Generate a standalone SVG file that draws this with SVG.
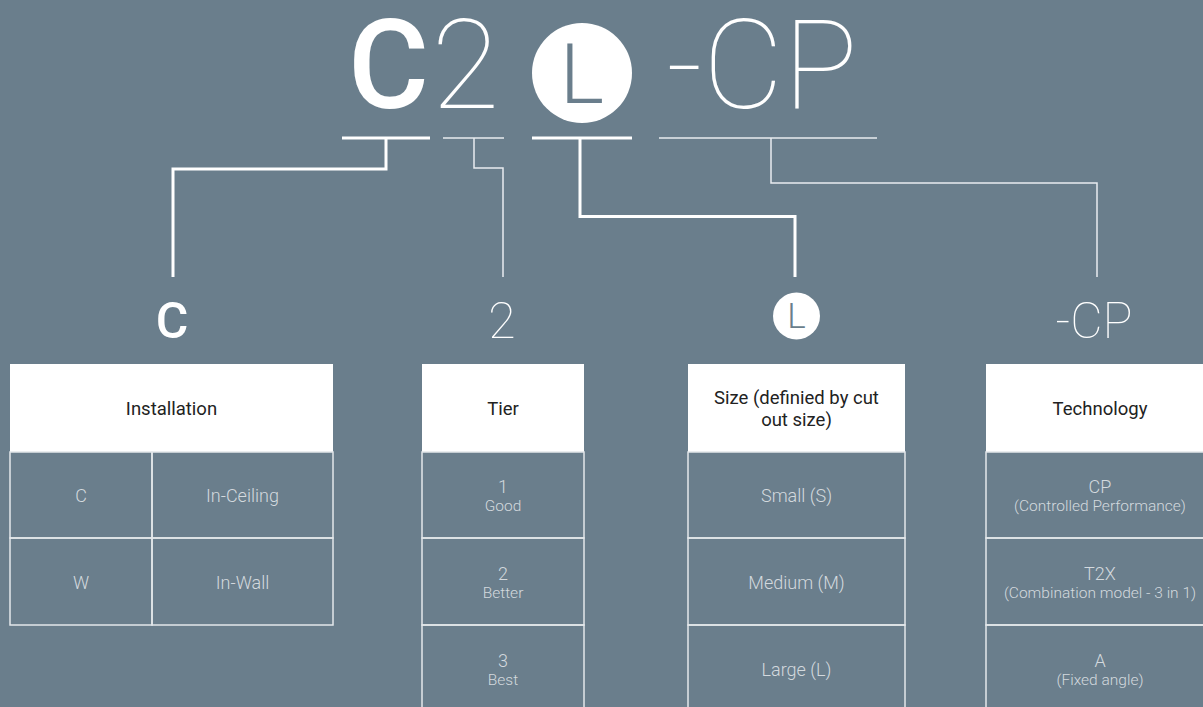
<svg xmlns="http://www.w3.org/2000/svg" width="1203" height="707" viewBox="0 0 1203 707">
  <style>
    .bg { fill: #6a7e8c; }
    .big { font-family: Roboto, "Liberation Sans", sans-serif; fill: #ffffff; text-anchor: middle; }
    .thick { stroke: #ffffff; stroke-width: 3; fill: none; }
    .thin { stroke: #e9ecef; stroke-width: 1.5; fill: none; }
    .hdr { fill: #ffffff; }
    .grid { fill: none; stroke: #e3e7ea; stroke-width: 1.5; }
    .htxt { font-family: Roboto, "Liberation Sans", sans-serif; font-weight: 400; font-size: 18.5px; fill: #222222; text-anchor: middle; }
    .ctxt { font-family: Roboto, "Liberation Sans", sans-serif; font-weight: 300; font-size: 18px; fill: #d3d9de; text-anchor: middle; }
    .stxt { font-family: Roboto, "Liberation Sans", sans-serif; font-weight: 300; font-size: 15.5px; fill: #d3d9de; text-anchor: middle; }
  </style>
  <rect class="bg" x="0" y="0" width="1203" height="707"/>

  <g id="model-code">
    <text class="big" x="388.5" y="108" font-size="124" font-weight="500">C</text>
    <text class="big" x="465.5" y="108" font-size="124" font-weight="100">2</text>
    <circle cx="582" cy="73" r="50" fill="#ffffff"/>
    <text class="big" x="582" y="103" font-size="84" font-weight="300" style="fill:#6a7e8c">L</text>
    <text class="big" x="762" y="108" font-size="124" font-weight="100">-CP</text>
    <line class="thick" x1="342" y1="138" x2="430" y2="138"/>
    <line class="thin" x1="443" y1="138" x2="504" y2="138"/>
    <line class="thick" x1="532" y1="138" x2="632" y2="138"/>
    <line class="thin" x1="659" y1="138" x2="877" y2="138"/>
  </g>

  <g id="connectors">
    <path class="thick" d="M386 138 V169 H173 V277"/>
    <path class="thin" d="M474 138 V168 H503 V277"/>
    <path class="thick" d="M580 138 V216.5 H795 V277"/>
    <path class="thin" d="M771 138 V183 H1097 V277"/>
  </g>

  <g id="label-c">
    <text class="big" x="172" y="338" font-size="50" font-weight="500">C</text>
  </g>
  <g id="label-2">
    <text class="big" x="502" y="338" font-size="50" font-weight="100">2</text>
  </g>
  <g id="label-l">
    <circle cx="796.5" cy="316" r="23.5" fill="#ffffff"/>
    <text class="big" x="796.5" y="328" font-size="35" font-weight="300" style="fill:#6a7e8c">L</text>
  </g>
  <g id="label-cp">
    <text class="big" x="1094" y="338" font-size="50" font-weight="100">-CP</text>
  </g>

  <g id="table-installation">
    <rect class="hdr" x="10" y="364" width="323" height="88"/>
    <text class="htxt" x="171.5" y="415">Installation</text>
    <rect class="grid" x="10" y="452" width="142" height="86"/>
    <rect class="grid" x="152" y="452" width="181" height="86"/>
    <rect class="grid" x="10" y="538" width="142" height="87"/>
    <rect class="grid" x="152" y="538" width="181" height="87"/>
    <text class="ctxt" x="81" y="502">C</text>
    <text class="ctxt" x="242.5" y="502">In-Ceiling</text>
    <text class="ctxt" x="81" y="589">W</text>
    <text class="ctxt" x="242.5" y="589">In-Wall</text>
  </g>

  <g id="table-tier">
    <rect class="hdr" x="422" y="364" width="162" height="88"/>
    <text class="htxt" x="503" y="415">Tier</text>
    <rect class="grid" x="422" y="452" width="162" height="86"/>
    <rect class="grid" x="422" y="538" width="162" height="87"/>
    <rect class="grid" x="422" y="625" width="162" height="87"/>
    <text class="ctxt" x="503" y="493">1</text>
    <text class="stxt" x="503" y="511">Good</text>
    <text class="ctxt" x="503" y="580">2</text>
    <text class="stxt" x="503" y="598">Better</text>
    <text class="ctxt" x="503" y="667">3</text>
    <text class="stxt" x="503" y="685">Best</text>
  </g>

  <g id="table-size">
    <rect class="hdr" x="688" y="364" width="217" height="88"/>
    <text class="htxt" x="796.5" y="404">Size (definied by cut</text>
    <text class="htxt" x="796.5" y="425.5">out size)</text>
    <rect class="grid" x="688" y="452" width="217" height="86"/>
    <rect class="grid" x="688" y="538" width="217" height="87"/>
    <rect class="grid" x="688" y="625" width="217" height="87"/>
    <text class="ctxt" x="796.5" y="502">Small (S)</text>
    <text class="ctxt" x="796.5" y="589">Medium (M)</text>
    <text class="ctxt" x="796.5" y="676">Large (L)</text>
  </g>

  <g id="table-technology">
    <rect class="hdr" x="986" y="364" width="228" height="88"/>
    <text class="htxt" x="1100" y="415">Technology</text>
    <rect class="grid" x="986" y="452" width="228" height="86"/>
    <rect class="grid" x="986" y="538" width="228" height="87"/>
    <rect class="grid" x="986" y="625" width="228" height="87"/>
    <text class="ctxt" x="1100" y="493">CP</text>
    <text class="stxt" x="1100" y="511">(Controlled Performance)</text>
    <text class="ctxt" x="1100" y="580">T2X</text>
    <text class="stxt" x="1100" y="598">(Combination model - 3 in 1)</text>
    <text class="ctxt" x="1100" y="667">A</text>
    <text class="stxt" x="1100" y="685">(Fixed angle)</text>
  </g>
</svg>
